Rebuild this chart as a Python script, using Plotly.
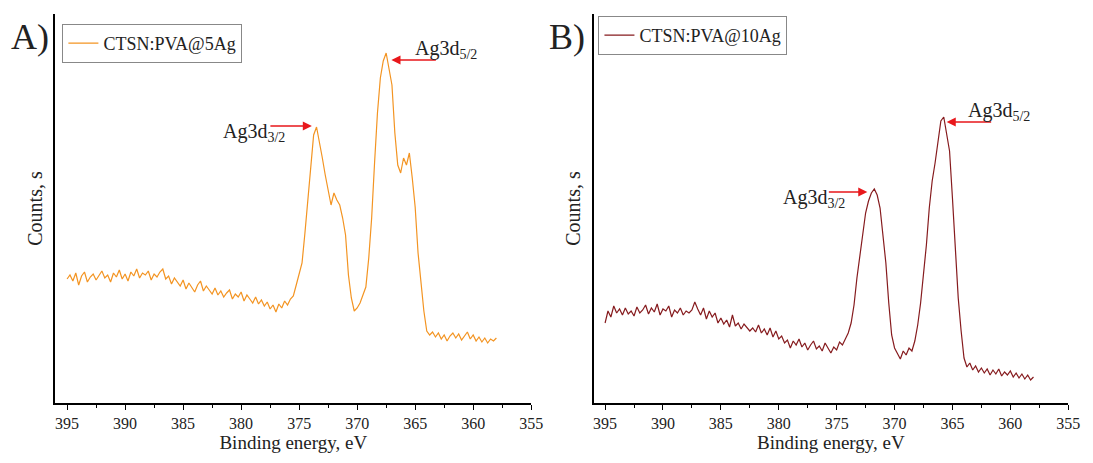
import plotly.graph_objects as go

# ---------------- data ----------------
energy = [round(395 - 0.25 * i, 2) for i in range(149)]

counts_5ag = [
    124, 128, 122, 130, 118, 127, 131, 121, 126, 129, 123, 127, 132, 125, 128, 121,
    130, 126, 133, 124, 129, 122, 131, 127, 134, 125, 130, 128, 132, 123, 129, 126,
    131, 134, 124, 127, 119, 125, 121, 117, 123, 114, 120, 116, 111, 118, 122, 112,
    117, 113, 109, 115, 108, 112, 106, 110, 113, 104, 109, 106, 111, 102, 108, 104,
    100, 106, 99, 103, 97, 101, 94, 98, 91, 99, 95, 102, 98, 104, 107, 118,
    128, 140, 170, 205, 240, 268, 276, 262, 245, 228, 212, 198, 210, 203, 198, 185,
    168, 128, 105, 92, 95, 100, 108, 116, 145, 185, 240, 290, 325, 342, 350, 332,
    318, 270, 238, 230, 245, 238, 250, 225, 196, 150, 118, 92, 72, 68, 71, 66,
    70, 64, 68, 62, 67, 70, 65, 69, 63, 67, 71, 64, 68, 62, 66, 61,
    65, 60, 64, 62, 65,
]

counts_10ag = [
    80, 92, 86, 97, 90, 94, 88, 95, 89, 92, 87, 96, 90, 93, 98, 89,
    95, 91, 99, 88, 94, 92, 97, 86, 93, 90, 95, 88, 92, 90, 93, 101,
    94, 88, 95, 84, 92, 86, 90, 80, 85, 79, 83, 76, 88, 77, 80, 74,
    79, 76, 72, 75, 71, 78, 70, 74, 68, 75, 66, 72, 64, 67, 60, 63,
    55, 62, 58, 64, 56, 60, 53, 58, 62, 54, 57, 52, 60, 55, 50, 56,
    53, 61, 58, 64, 70, 80, 98, 125, 148, 168, 190, 202, 210, 214, 208, 195,
    168, 140, 100, 68, 55, 50, 44, 52, 48, 55, 52, 62, 78, 100, 128, 158,
    195, 222, 240, 262, 282, 286, 268, 252, 205, 150, 105, 72, 45, 36, 40, 33,
    37, 31, 35, 30, 34, 28, 33, 29, 34, 27, 31, 28, 32, 26, 30, 25,
    29, 24, 28, 23, 26,
]

series_names = ["CTSN:PVA@5Ag", "CTSN:PVA@10Ag"]
panel_labels = ["A)", "B)"]
tick_vals = [395, 390, 385, 380, 375, 370, 365, 360, 355]
tick_text = [str(v) for v in tick_vals]
x_title = "Binding energy, eV"
y_title = "Counts, s"

# peak labels: (xref, yref, arrow-head energy, arrow-head count, tail offset px,
#               label, label energy, label count)
peak_labels = [
    ("x", "y", 367.05, 343, 46, "Ag3d<sub>5/2</sub>", 365.2, 353),
    ("x", "y", 373.9, 277, -43, "Ag3d<sub>3/2</sub>", 381.75, 270),
    ("x2", "y2", 365.5, 281, 46, "Ag3d<sub>5/2</sub>", 363.8, 291),
    ("x2", "y2", 372.35, 211, -40, "Ag3d<sub>3/2</sub>", 379.8, 204),
]

FONT = "Liberation Serif, Times New Roman, serif"
COL_A = "#F39422"
COL_B = "#861B1E"
ARROW = "#E8171B"
TXT = "#222"

# page body adds an 8px offset; compensate in paper coordinates
W, H, OFF = 1093, 463, 8


def px_x(s):
    return (s - OFF) / W


def px_y(s):
    return 1 - (s - OFF) / H


fig = go.Figure()
fig.add_trace(go.Scatter(x=energy, y=counts_5ag, mode="lines", name=series_names[0],
                         line=dict(color=COL_A, width=1.2), xaxis="x", yaxis="y",
                         legend="legend"))
fig.add_trace(go.Scatter(x=energy, y=counts_10ag, mode="lines", name=series_names[1],
                         line=dict(color=COL_B, width=1.2), xaxis="x2", yaxis="y2",
                         legend="legend2"))

ydom = [px_y(403), px_y(14)]
xaxis_common = dict(
    range=[396, 355], tickvals=tick_vals, ticktext=tick_text, ticks="outside",
    ticklen=5, tickwidth=1.3, tickcolor="black", showline=True, linecolor="black",
    linewidth=1.5, showgrid=False, zeroline=False,
    tickfont=dict(family=FONT, size=16, color=TXT),
    title=dict(text=x_title, font=dict(family=FONT, size=19, color=TXT), standoff=4),
    minor=dict(dtick=2.5, ticks="outside", ticklen=3, tickwidth=1.2, tickcolor="black",
               showgrid=False),
)
yaxis_common = dict(
    range=[0, 389], showticklabels=False, ticks="", showline=True, linecolor="black",
    linewidth=1.5, showgrid=False, zeroline=False, domain=ydom,
    title=dict(text=y_title, font=dict(family=FONT, size=20, color=TXT), standoff=6),
)

legend_common = dict(xanchor="left", yanchor="top", bordercolor="#888", borderwidth=1,
                     bgcolor="white", font=dict(family=FONT, size=18, color=TXT),
                     tracegroupgap=0, itemwidth=30)

fig.update_layout(
    width=W, height=H, margin=dict(l=0, r=0, t=0, b=0),
    paper_bgcolor="white", plot_bgcolor="white",
    xaxis=dict(domain=[px_x(56), px_x(537)], anchor="y", **xaxis_common),
    yaxis=dict(anchor="x", **yaxis_common),
    xaxis2=dict(domain=[px_x(600), px_x(1080)], anchor="y2", **xaxis_common),
    yaxis2=dict(anchor="x2", **yaxis_common),
    legend=dict(x=px_x(63), y=px_y(24), **legend_common),
    legend2=dict(x=px_x(605), y=px_y(16), **legend_common),
    showlegend=True,
)

annotations = []
for xr, yr, hx, hy, ax, label, tx, ty in peak_labels:
    annotations.append(dict(xref=xr, yref=yr, x=hx, y=hy, ax=ax, ay=0, text="",
                            showarrow=True, arrowhead=2, arrowsize=1.3, arrowwidth=1.4,
                            arrowcolor=ARROW, axref="pixel", ayref="pixel"))
    annotations.append(dict(xref=xr, yref=yr, x=tx, y=ty, text=label, showarrow=False,
                            xanchor="left", yanchor="middle",
                            font=dict(family=FONT, size=20, color=TXT)))
annotations.append(dict(xref="paper", yref="paper", x=px_x(9), y=px_y(37),
                        text=panel_labels[0], showarrow=False, xanchor="left",
                        yanchor="middle", font=dict(family=FONT, size=36, color=TXT)))
annotations.append(dict(xref="paper", yref="paper", x=px_x(553), y=px_y(37),
                        text=panel_labels[1], showarrow=False, xanchor="left",
                        yanchor="middle", font=dict(family=FONT, size=36, color=TXT)))
fig.update_layout(annotations=annotations)

fig.write_html("out.html")
